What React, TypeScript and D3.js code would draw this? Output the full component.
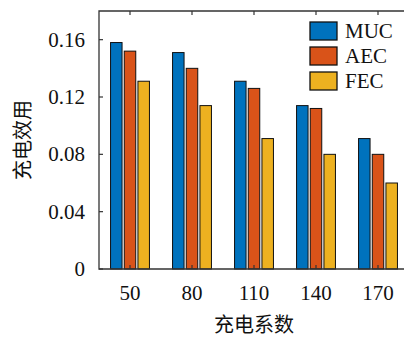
import React from "react";
import * as d3 from "d3";

// data
const categories = [50, 80, 110, 140, 170];
const seriesNames = ["MUC", "AEC", "FEC"];
const mucValues = [0.158, 0.151, 0.131, 0.114, 0.091];
const aecValues = [0.152, 0.14, 0.126, 0.112, 0.08];
const fecValues = [0.131, 0.114, 0.091, 0.08, 0.06];
const yTicks = [0, 0.04, 0.08, 0.12, 0.16];
const yTickLabels = ["0", "0.04", "0.08", "0.12", "0.16"];
const colors = ["#0072BD", "#D95319", "#EDB120"];

const width = 404,
  height = 338;
const margin = { top: 11, left: 99, right: 409, bottom: 269 }; // right edge runs off the picture
const serif = "'Liberation Serif', 'DejaVu Serif', serif";
const cjk = "'Noto Sans CJK SC', sans-serif";
const axisColor = "#333";

const App = () => {
  const allValues = [mucValues, aecValues, fecValues];

  const x_Scale = d3.scaleLinear().domain([35, 185]).range([margin.left, margin.right]);
  const y_Scale = d3.scaleLinear().domain([0, 0.18]).range([margin.bottom, margin.top]);
  // bars inside one group
  const sub = d3.scaleBand().domain(seriesNames).range([-19.45, 19.45]).paddingInner(0.16);

  return (
    <svg
      width={width}
      height={height}
      style={{ position: "absolute", left: 0, top: 0, background: "#fff" }}
    >
      {/* BARS */}
      {allValues.map((vals, si) =>
        vals.map((v, i) => (
          <rect
            key={`${si}-${i}`}
            x={x_Scale(categories[i]) + (sub(seriesNames[si]) as number)}
            y={y_Scale(v)}
            width={sub.bandwidth()}
            height={y_Scale(0) - y_Scale(v)}
            fill={colors[si]}
            stroke="#111"
            strokeWidth={1}
          />
        ))
      )}

      {/* BOX */}
      <path
        d={`M${margin.left},${margin.bottom}V${margin.top}H${margin.right}V${margin.bottom}Z`}
        fill="none"
        stroke={axisColor}
        strokeWidth={1.3}
      />

      {/* X TICKS */}
      {categories.map((c) => (
        <g key={c}>
          <line x1={x_Scale(c)} x2={x_Scale(c)} y1={margin.bottom} y2={margin.bottom - 4} stroke={axisColor} strokeWidth={1.2} />
          <line x1={x_Scale(c)} x2={x_Scale(c)} y1={margin.top} y2={margin.top + 4} stroke={axisColor} strokeWidth={1.2} />
          <text x={x_Scale(c)} y={300} textAnchor="middle" fontFamily={serif} fontSize={21} fill="#111">
            {c}
          </text>
        </g>
      ))}

      {/* Y TICKS */}
      {yTicks.map((t, i) => (
        <g key={t}>
          <line x1={margin.left} x2={margin.left + 4} y1={y_Scale(t)} y2={y_Scale(t)} stroke={axisColor} strokeWidth={1.2} />
          <line x1={margin.right} x2={margin.right - 4} y1={y_Scale(t)} y2={y_Scale(t)} stroke={axisColor} strokeWidth={1.2} />
          <text
            x={85}
            y={y_Scale(t)}
            dy="0.33em"
            textAnchor="end"
            fontFamily={serif}
            fontSize={21}
            fill="#111"
          >
            {yTickLabels[i]}
          </text>
        </g>
      ))}

      {/* AXIS LABELS */}
      <text x={(margin.left + margin.right) / 2} y={332} textAnchor="middle" fontFamily={cjk} fontSize={20} fill="#111">
        充电系数
      </text>
      <text
        transform={`translate(30,${(margin.top + margin.bottom) / 2}) rotate(-90)`}
        textAnchor="middle"
        fontFamily={cjk}
        fontSize={20}
        fill="#111"
      >
        充电效用
      </text>

      {/* LEGEND */}
      {seriesNames.map((s, i) => (
        <g key={s} transform={`translate(310,${22 + i * 25})`}>
          <rect width={27} height={18} fill={colors[i]} stroke="#111" strokeWidth={1.3} />
          <text x={35} y={16} fontFamily={serif} fontSize={21} fill="#111">
            {s}
          </text>
        </g>
      ))}
    </svg>
  );
};

export default App;
